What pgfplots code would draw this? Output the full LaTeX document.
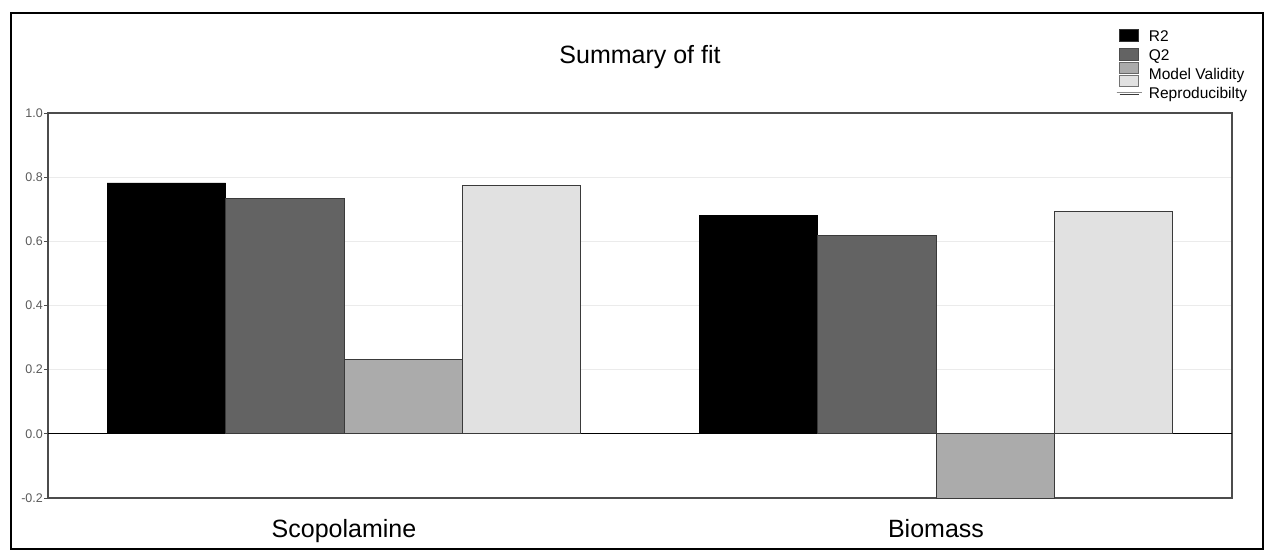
\documentclass[border=0pt]{standalone}
\usepackage{fontspec}
\setmainfont{Liberation Sans}
\usepackage{pgfplots}
\pgfplotsset{compat=1.18}
\definecolor{cR}{HTML}{000000}
\definecolor{cQ}{HTML}{636363}
\definecolor{cM}{HTML}{ABABAB}
\definecolor{cP}{HTML}{E1E1E1}
\definecolor{edge}{HTML}{3A3A3A}
\begin{document}
\begin{tikzpicture}[x=1pt,y=1pt]
\useasboundingbox (-48,-52) rectangle (1218,498);
\draw[line width=2.5pt] (-37,-51) rectangle (1215,485);
\begin{axis}[
  at={(0,0)}, anchor=south west,
  width=1184pt, height=385pt, scale only axis,
  xmin=-0.5, xmax=1.5, ymin=-0.2, ymax=1.0,
  xtick={0,1}, xticklabels={Scopolamine,Biomass},
  major x tick style={draw=none},
  xticklabel style={font=\fontsize{25}{30}\selectfont, anchor=base, yshift=-35pt},
  ytick={-0.2,0,0.2,0.4,0.6,0.8,1.0},
  yticklabel style={font=\fontsize{12.5}{14}\selectfont, text=black!65, inner sep=1pt,
    /pgf/number format/fixed, /pgf/number format/fixed zerofill, /pgf/number format/precision=1},
  /pgf/number format/assume math mode=true,
  tick align=outside, major tick length=4pt, ytick pos=left,
  major y tick style={draw=black!70, line width=1pt},
  ymajorgrids, major grid style={draw=black!8, line width=1pt},
  extra y ticks={0}, extra y tick labels={},
  extra y tick style={major tick length=0pt, major grid style={draw=black, line width=1pt}},
  axis line style={draw=black!70, line width=1.5pt},
  title={Summary of fit},
  title style={at={(0.5,1.112)}, anchor=base, font=\fontsize{25}{30}\selectfont},
  legend style={draw=none, fill=none, at={(axis description cs:0.9045,1.215)}, anchor=north west,
    font=\fontsize{15.5}{18}\selectfont, inner sep=0pt, row sep=3.2pt,
    nodes={inner sep=0pt, text height=11.5pt, text depth=4pt},
    /tikz/every odd column/.append style={column sep=10pt}},
  legend cell align=left,
]
\addplot[ybar, bar width=0.2, bar shift=-0.3, fill=cR, draw=black, line width=0.8pt,
  legend image code/.code={\path (0pt,0pt) -- (19pt,0pt);
    \draw[overlay,fill=cR,draw=black!80] (0pt,-3.5pt) rectangle (19pt,8.5pt);}]
  coordinates {(0,0.782) (1,0.681)};
\addlegendentry{R2}
\addplot[ybar, bar width=0.2, bar shift=-0.1, fill=cQ, draw=edge, line width=0.8pt,
  legend image code/.code={\path (0pt,0pt) -- (19pt,0pt);
    \draw[overlay,fill=cQ,draw=black!70] (0pt,-3.5pt) rectangle (19pt,8.5pt);}]
  coordinates {(0,0.733) (1,0.617)};
\addlegendentry{Q2}
\addplot[ybar, bar width=0.2, bar shift=0.1, fill=cM, draw=edge, line width=0.8pt,
  legend image code/.code={\path (0pt,0pt) -- (19pt,0pt);
    \draw[overlay,fill=cM,draw=black!60] (0pt,2.5pt) rectangle (19pt,13.5pt);}]
  coordinates {(0,0.231) (1,-0.2)};
\addlegendentry{Model Validity}
\addplot[ybar, bar width=0.2, bar shift=0.3, fill=cP, draw=edge, line width=0.8pt,
  legend image code/.code={\path (0pt,0pt) -- (19pt,0pt);
    \draw[overlay,fill=cP,draw=black!55] (0pt,7.5pt) rectangle (19pt,18.5pt);
    \draw[overlay,black!45, line width=1.2pt] (-3pt,2pt) -- (22pt,2pt);}]
  coordinates {(0,0.775) (1,0.694)};
\addlegendentry{Reproducibilty}
\end{axis}
\end{tikzpicture}
\end{document}
